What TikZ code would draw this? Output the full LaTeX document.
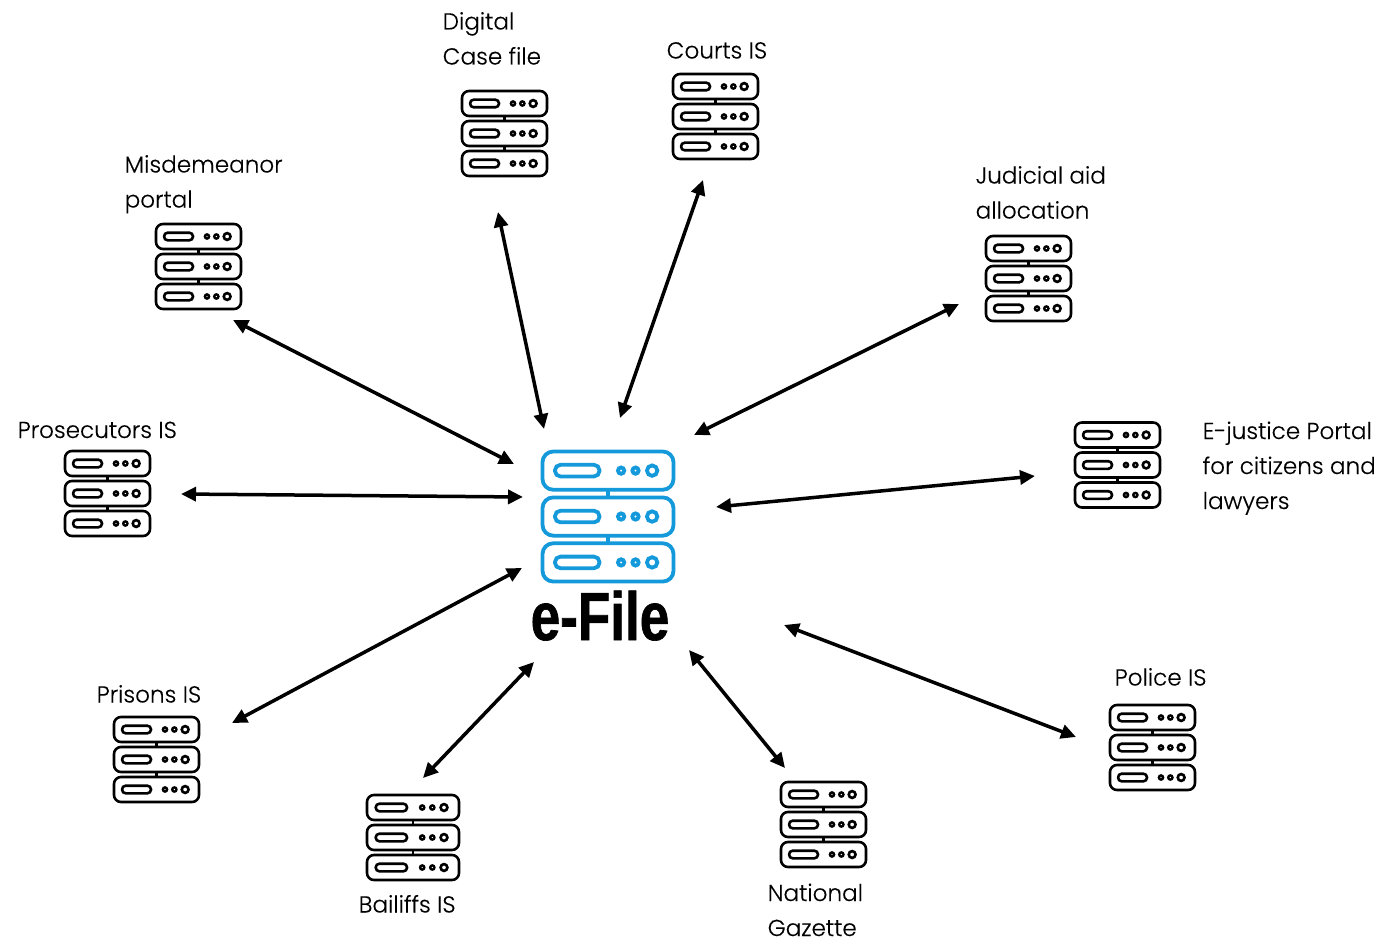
\documentclass[tikz,border=0pt]{standalone}
\usepackage{fontspec}
\setmainfont{Poppins}
\newfontfamily\lblfont[UprightFont={* Light},FakeBold=0.25]{Poppins}
\newfontfamily\hubfont[FakeStretch=0.78,FakeBold=1]{Liberation Sans Bold}
\usetikzlibrary{arrows.meta}
\tikzset{
  lbl/.style={font=\lblfont\fontsize{23.1}{35}\selectfont,anchor=base west,inner sep=0pt,align=left,text=black},
  link/.style={line width=3.5pt,draw=black,{Triangle[length=15pt,width=14pt]}-{Triangle[length=15pt,width=14pt]}},
}
% name, left, top, width in px, scale, colour, line width
\newcommand\srvicon[7]{%
  \begin{scope}[shift={(#2,#3)},x=#4/100*1pt,y=-#5*1pt,draw=#6,line width=#7pt]
    \foreach \ro in {0,30,60}{
      \draw[rounded corners=#5*7pt,fill=white] (0,\ro) rectangle (100,\ro+25);
      \draw[rounded corners=#5*3.6pt] (9.5,\ro+8.7) rectangle (43.5,\ro+16.3);
      \fill[#6] (60,\ro+12.5) circle[radius=#5*3.4pt];
      \fill[#6] (71,\ro+12.5) circle[radius=#5*3.4pt];
      \draw (83.7,\ro+12.5) circle[radius=#5*3.4pt];
      \fill[white] (60,\ro+12.5) circle[radius=#5*.7pt];
      \fill[white] (71,\ro+12.5) circle[radius=#5*.7pt];
    }
    \draw (50,25) -- (50,30) (50,55) -- (50,60);
    \coordinate (#1) at (50,42.5);
  \end{scope}%
}
\definecolor{hubblue}{HTML}{1499DB}
\begin{document}
\begin{tikzpicture}[x=1pt,y=-1pt]
\useasboundingbox[fill=white] (0,0) rectangle (1381,939);

\srvicon{misd}{156}{224}{85}{1}{black}{2.6}
\srvicon{dig}{462}{91}{85}{1}{black}{2.6}
\srvicon{court}{673}{74}{85}{1}{black}{2.6}
\srvicon{jud}{986}{236}{85}{1}{black}{2.6}
\srvicon{ejus}{1075}{422.5}{85}{1}{black}{2.6}
\srvicon{pros}{65}{451}{85}{1}{black}{2.6}
\srvicon{pris}{114}{717}{85}{1}{black}{2.6}
\srvicon{bail}{367}{795}{92}{1}{black}{2.6}
\srvicon{nat}{781}{782}{85}{1}{black}{2.6}
\srvicon{pol}{1110}{705}{85}{1}{black}{2.6}
\srvicon{hub}{542.5}{451.5}{131}{1.53}{hubblue}{3.8}

\node[lbl] (tdig) at (442.5,64.5) {Digital\\Case file};
\node[lbl] (tcourt) at (666.5,58.5) {Courts IS};
\node[lbl] (tmisd) at (124.5,207.5) {Misdemeanor\\portal};
\node[lbl] (tjud) at (975.5,218.5) {Judicial aid\\allocation};
\node[lbl] (tejus) at (1202.5,509) {E-justice Portal\\for citizens and\\lawyers};
\node[lbl] (tpros) at (17.5,438) {Prosecutors IS};
\node[lbl] (tpris) at (96.5,702.5) {Prisons IS};
\node[lbl] (tbail) at (358.5,912.5) {Bailiffs IS};
\node[lbl] (tnat) at (767.5,936) {National\\Gazette};
\node[lbl] (tpol) at (1114.5,685.5) {Police IS};
\node[font=\hubfont\fontsize{68}{68}\selectfont,anchor=base,inner sep=0pt] (thub) at (600,640) {e-File};

\coordinate (a1) at (233,320); \coordinate (b1) at (514,464);
\coordinate (a2) at (498,212); \coordinate (b2) at (544,429);
\coordinate (a3) at (703,180); \coordinate (b3) at (620,418);
\coordinate (a4) at (959,304); \coordinate (b4) at (694,435);
\coordinate (a5) at (1035,476); \coordinate (b5) at (716,507);
\coordinate (a6) at (1076,737); \coordinate (b6) at (784,625);
\coordinate (a7) at (785,768); \coordinate (b7) at (689,650);
\coordinate (a8) at (423,778); \coordinate (b8) at (534,662);
\coordinate (a9) at (232,723); \coordinate (b9) at (522,568);
\coordinate (a10) at (181,494); \coordinate (b10) at (523,497);
\foreach \i in {1,...,10}{\draw[link] (a\i) -- (b\i);}
\end{tikzpicture}
\end{document}
